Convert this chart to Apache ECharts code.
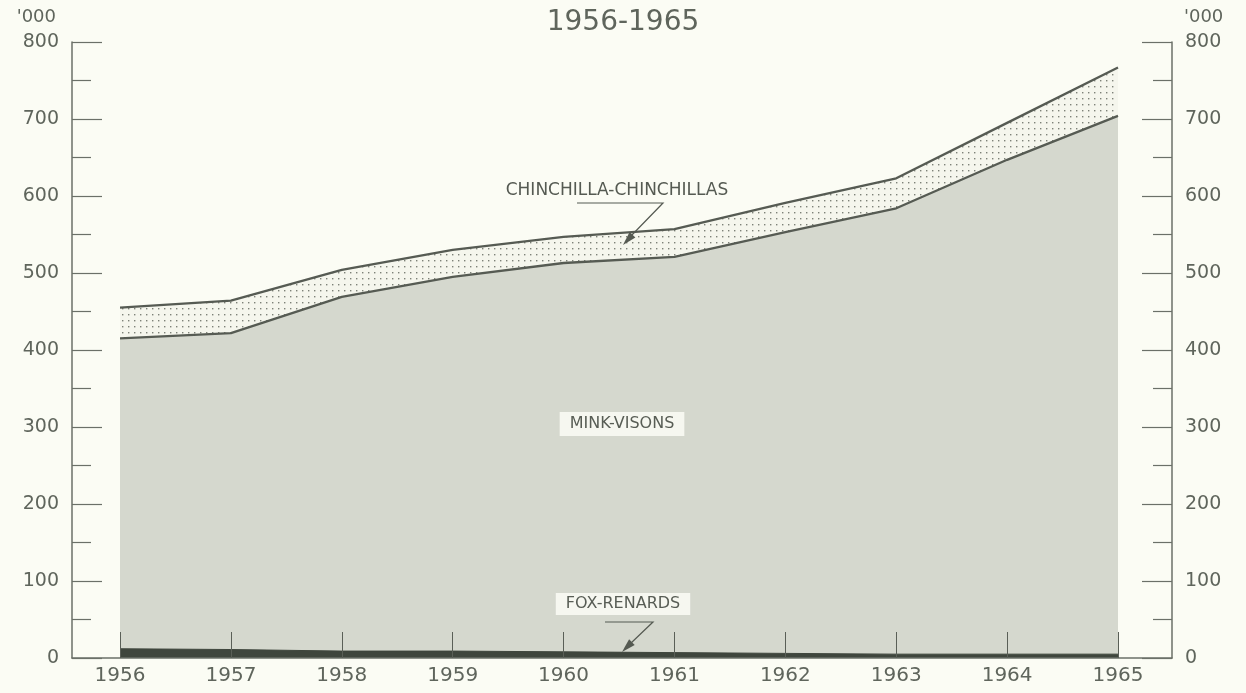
<!DOCTYPE html>
<html>
<head>
<meta charset="utf-8">
<script src="https://cdn.jsdelivr.net/npm/echarts@6/dist/echarts.min.js"></script>
<style>
html,body{margin:0;padding:0;background:#fbfcf4;}
#chart{width:1246px;height:693px;}
</style>
</head>
<body>
<div id="chart"></div>
<script>
// ---- Data (thousands of pelts) ----
const years = [1956, 1957, 1958, 1959, 1960, 1961, 1962, 1963, 1964, 1965];
const fox = [12, 11, 9, 9, 8, 7, 6, 5, 5, 5];
const mink = [403, 411, 460, 486, 505, 514, 547, 579, 642, 699];
const chinchilla = [40, 42, 35, 35, 34, 36, 38, 39, 48, 63];
const yTicks = [0, 100, 200, 300, 400, 500, 600, 700, 800];
const titleText = '1956-1965';
const unitText = "'000";

// cumulative tops (layered areas)
const foxTop = fox.slice();
const minkTop = mink.map((v, i) => v + fox[i]);
const chinTop = chinchilla.map((v, i) => v + minkTop[i]);

// dotted pattern for chinchilla band
const pat = document.createElement('canvas');
pat.width = 6; pat.height = 6;
const pctx = pat.getContext('2d');
pctx.fillStyle = '#f5f6ed';
pctx.fillRect(0, 0, 6, 6);
pctx.fillStyle = '#7d8278';
pctx.fillRect(2, 2, 1.4, 1.4);

const textColor = '#5f655c';
const axisColor = '#6b7068';
const fontFam = '"DejaVu Sans", sans-serif';

const chart = echarts.init(document.getElementById('chart'));

const toPairs = arr => arr.map((v, i) => [years[i], v]);

function yAxisDef(pos) {
  return {
    type: 'value', min: 0, max: 800, interval: 100, position: pos, z: 10,
    splitLine: { show: false },
    axisLine: { show: true, onZero: false, lineStyle: { color: axisColor, width: 1.5 } },
    axisTick: { show: true, inside: true, length: 30, lineStyle: { color: axisColor, width: 1.2 } },
    minorTick: { show: true, splitNumber: 2, length: 19, lineStyle: { color: axisColor, width: 1.2 } },
    minorSplitLine: { show: false },
    axisLabel: { color: textColor, fontSize: 19, fontFamily: fontFam, margin: 13 },
    name: unitText,
    nameLocation: 'end',
    nameGap: 16,
    nameTextStyle: pos === 'left'
      ? { color: textColor, fontSize: 18, fontFamily: fontFam, align: 'right', padding: [0, 16, 0, 0] }
      : { color: textColor, fontSize: 18, fontFamily: fontFam, align: 'left', padding: [0, 0, 0, 12] }
  };
}

const option = {
  backgroundColor: '#fbfcf4',
  animation: false,
  title: {
    text: titleText, left: 'center', top: 4,
    textStyle: { color: textColor, fontSize: 28, fontWeight: 'normal', fontFamily: fontFam }
  },
  grid: { left: 72, right: 74, top: 42, bottom: 35, containLabel: false },
  xAxis: {
    type: 'value', min: 1955.567, max: 1965.487, z: 10,
    splitLine: { show: false },
    axisLine: { show: true, lineStyle: { color: axisColor, width: 1.5 } },
    axisTick: { show: true, inside: true, length: 26, customValues: years, lineStyle: { color: '#5a5f57', width: 1 } },
    axisLabel: { color: textColor, fontSize: 20, fontFamily: fontFam, margin: 8, customValues: years, formatter: v => String(v) }
  },
  yAxis: [yAxisDef('left'), yAxisDef('right')],
  series: [
    {
      name: 'CHINCHILLA-CHINCHILLAS', type: 'line', data: toPairs(chinTop), yAxisIndex: 0,
      symbol: 'none', lineStyle: { color: '#565b53', width: 2.3 },
      areaStyle: { color: { image: pat, repeat: 'repeat' }, opacity: 1 }, z: 1
    },
    {
      name: 'MINK-VISONS', type: 'line', data: toPairs(minkTop), yAxisIndex: 0,
      symbol: 'none', lineStyle: { color: '#565b53', width: 2.3 },
      areaStyle: { color: '#d5d8ce', opacity: 1 }, z: 2
    },
    {
      name: 'FOX-RENARDS', type: 'line', data: toPairs(foxTop), yAxisIndex: 0,
      symbol: 'none', lineStyle: { color: '#3f463d', width: 1 },
      areaStyle: { color: '#3f463d', opacity: 1 }, z: 3
    }
  ],
  graphic: [
    { type: 'text', z: 100, style: { text: 'CHINCHILLA-CHINCHILLAS', x: 617, y: 191, align: 'center', verticalAlign: 'middle',
        fill: '#555a52', font: '17px "DejaVu Sans", sans-serif' } },
    { type: 'polyline', z: 100, shape: { points: [[577, 203], [663, 203], [630, 237]] }, style: { stroke: '#555a52', lineWidth: 1.2, fill: null } },
    { type: 'polygon', z: 100, shape: { points: [[623, 245], [635.4, 237.5], [629.6, 232.1]] }, style: { fill: '#555a52' } },

    { type: 'text', z: 100, style: { text: 'MINK-VISONS', x: 622, y: 424, align: 'center', verticalAlign: 'middle',
        fill: '#585d55', font: '16px "DejaVu Sans", sans-serif', backgroundColor: '#f6f7f0', padding: [4, 10, 4, 10] } },

    { type: 'text', z: 100, style: { text: 'FOX-RENARDS', x: 623, y: 604, align: 'center', verticalAlign: 'middle',
        fill: '#585d55', font: '16px "DejaVu Sans", sans-serif', backgroundColor: '#f6f7f0', padding: [3, 10, 3, 10] } },
    { type: 'polyline', z: 100, shape: { points: [[605, 622], [653, 622], [630, 644]] }, style: { stroke: '#555a52', lineWidth: 1.2, fill: null } },
    { type: 'polygon', z: 100, shape: { points: [[622, 652], [634.7, 644.9], [629.1, 639.3]] }, style: { fill: '#555a52' } }
  ]
};

chart.setOption(option);
</script>
</body>
</html>
